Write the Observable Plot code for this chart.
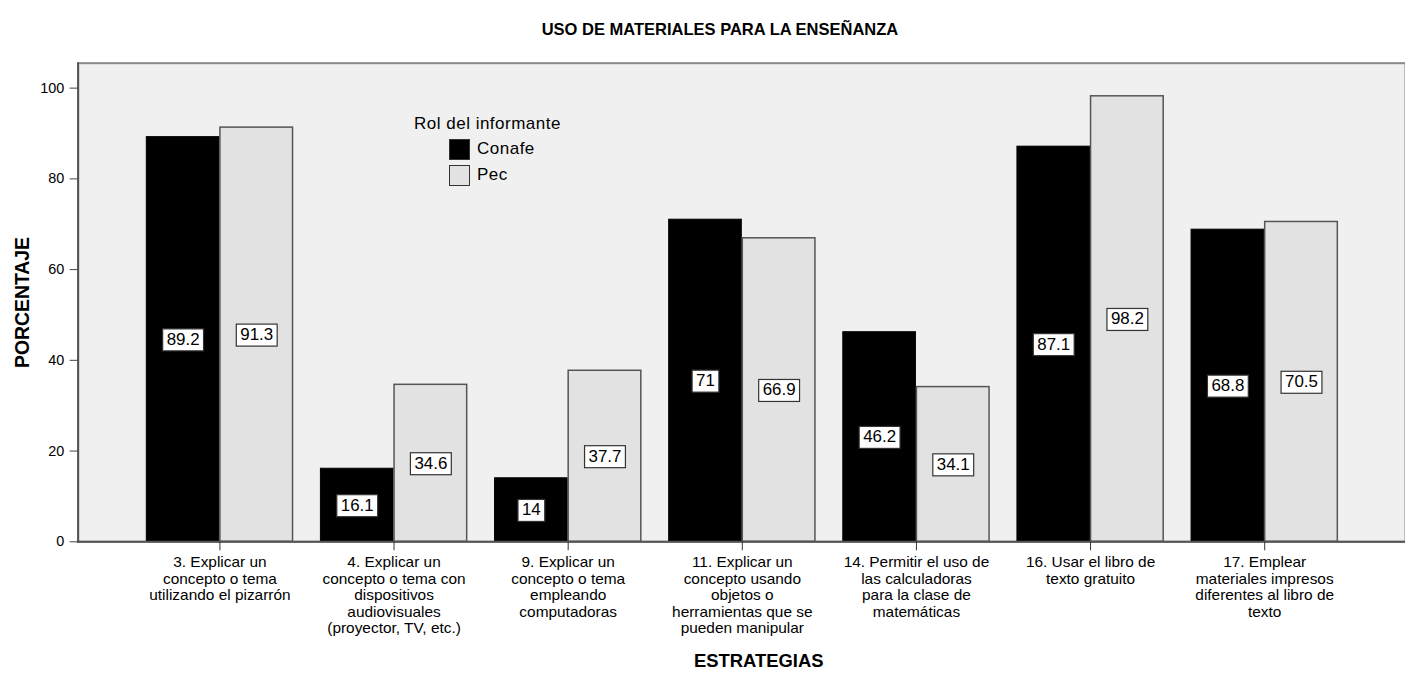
<!DOCTYPE html>
<html>
<head>
<meta charset="utf-8">
<script src="https://cdn.jsdelivr.net/npm/d3@7"></script>
<script src="https://cdn.jsdelivr.net/npm/@observablehq/plot@0.6"></script>
<style>
  html, body { margin: 0; padding: 0; background: #fff; overflow: hidden; }
  body { width: 1405px; height: 675px; position: relative; font-family: "Liberation Sans", Arial, sans-serif; }
  #title { position: absolute; left: 0; width: 1440px; top: 20px; text-align: center; font-weight: bold; font-size: 16.5px; color: #000; }
  #legend { position: absolute; left: 414px; top: 114px; font-size: 17px; color: #000; letter-spacing: 0.5px; }
  #legend .t { margin-bottom: 2px; }
  #legend .row { display: flex; align-items: center; margin-left: 35px; height: 26px; }
  #legend .sw { width: 19px; height: 19px; border: 1px solid #333; margin-right: 7px; }
  #chart { position: absolute; left: 0; top: 0; }
</style>
</head>
<body>
<div id="chart"></div>
<div id="title">USO DE MATERIALES PARA LA ENSEÑANZA</div>
<div id="legend"></div>
<script>
const strategies = [
  "3. Explicar un\nconcepto o tema\nutilizando el pizarrón",
  "4. Explicar un\nconcepto o tema con\ndispositivos\naudiovisuales\n(proyector, TV, etc.)",
  "9. Explicar un\nconcepto o tema\nempleando\ncomputadoras",
  "11. Explicar un\nconcepto usando\nobjetos o\nherramientas que se\npueden manipular",
  "14. Permitir el uso de\nlas calculadoras\npara la clase de\nmatemáticas",
  "16. Usar el libro de\ntexto gratuito",
  "17. Emplear\nmateriales impresos\ndiferentes al libro de\ntexto"
];
const roles = ["Conafe", "Pec"];
const conafeValues = [89.2, 16.1, 14, 71, 46.2, 87.1, 68.8];
const pecValues = [91.3, 34.6, 37.7, 66.9, 34.1, 98.2, 70.5];
const yTicks = [0, 20, 40, 60, 80, 100];
const roleColors = ["#000000", "#e2e2e2"];
const legendTitle = "Rol del informante";
const yLabel = "PORCENTAJE";
const xLabel = "ESTRATEGIAS";

const conafeRows = strategies.map((s, i) => ({strategy: s, role: roles[0], value: conafeValues[i]}));
const pecRows = strategies.map((s, i) => ({strategy: s, role: roles[1], value: pecValues[i]}));

const half = 74;
const chart = Plot.plot({
  width: 1412,
  height: 675,
  marginLeft: 78,
  marginRight: 0,
  marginTop: 63,
  marginBottom: 131,
  style: {fontFamily: "'Liberation Sans', Arial, sans-serif", background: "transparent", color: "#000"},
  x: {domain: strategies, paddingInner: 0.16, paddingOuter: 0.37, axis: null},
  y: {domain: [0, 105.5], axis: null},
  marks: [
    Plot.frame({fill: "#f0f0f0", stroke: "#8a8a8a", strokeWidth: 2}),
    Plot.barY(conafeRows, {x: "strategy", y: "value", fill: roleColors[0], stroke: "#000", insetRight: half}),
    Plot.barY(pecRows, {x: "strategy", y: "value", fill: roleColors[1], stroke: "#555", strokeWidth: 1.5, insetLeft: half}),
    Plot.frame({anchor: "left", stroke: "#555", strokeWidth: 2}),
    Plot.frame({anchor: "bottom", stroke: "#555", strokeWidth: 2}),
    Plot.axisY({ticks: yTicks, tickSize: 8, tickPadding: 6, fontSize: 14.5, stroke: "#444", label: null}),
    Plot.axisX({tickSize: 9, tickPadding: 5, fontSize: 15.5, lineHeight: 1.07, stroke: "#333", label: null, textAnchor: "middle", letterSpacing: 0.2}),
    Plot.text(conafeRows, {x: "strategy", y: d => d.value / 2, text: d => String(d.value), dx: -37, fontSize: 17, fill: "#000"}),
    Plot.text(pecRows, {x: "strategy", y: d => d.value / 2, text: d => String(d.value), dx: 37, fontSize: 17, fill: "#000"}),
    Plot.text([yLabel], {frameAnchor: "left", rotate: -90, dx: -56, textAnchor: "middle", fontSize: 19.5, fontWeight: "bold", fill: "#000"}),
    Plot.text([xLabel], {frameAnchor: "bottom", dy: 126, dx: 17, fontSize: 18.5, fontWeight: "bold", fill: "#000"})
  ]
});
document.getElementById("chart").append(chart);

// white boxes behind value labels
const isValue = new Set([...conafeValues, ...pecValues].map(String));
chart.querySelectorAll('g[aria-label="text"] text').forEach(t => {
  if (!isValue.has(t.textContent.trim())) return;
  const b = t.getBBox();
  const r = document.createElementNS("http://www.w3.org/2000/svg", "rect");
  r.setAttribute("x", b.x - 4);
  r.setAttribute("y", b.y - 1);
  r.setAttribute("width", b.width + 8);
  r.setAttribute("height", b.height + 3);
  r.setAttribute("fill", "#fff");
  r.setAttribute("stroke", "#333");
  r.setAttribute("stroke-width", 1.2);
  const tr = t.getAttribute("transform");
  if (tr) r.setAttribute("transform", tr);
  t.parentNode.insertBefore(r, t);
});

// legend
const lg = document.getElementById("legend");
const lt = document.createElement("div");
lt.className = "t";
lt.textContent = legendTitle;
lg.append(lt);
roles.forEach((r, i) => {
  const row = document.createElement("div");
  row.className = "row";
  const sw = document.createElement("div");
  sw.className = "sw";
  sw.style.background = roleColors[i];
  const lab = document.createElement("span");
  lab.textContent = r;
  row.append(sw, lab);
  lg.append(row);
});
</script>
</body>
</html>
